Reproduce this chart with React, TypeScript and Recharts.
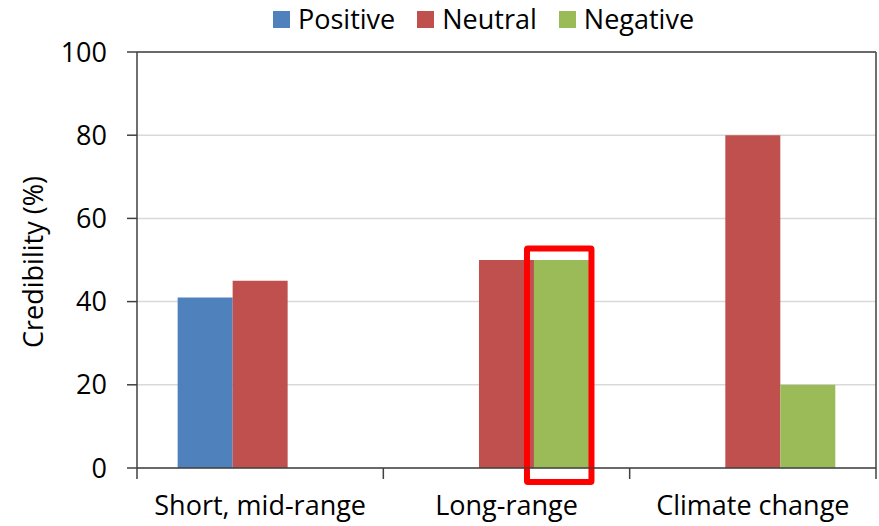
import { BarChart, Bar, XAxis, YAxis, CartesianGrid, Legend } from 'recharts'

const categories = ['Short, mid-range', 'Long-range', 'Climate change']
const positive = [41, 0, 0]
const neutral = [45, 50, 80]
const negative = [0, 50, 20]
const yTicks = [0, 20, 40, 60, 80, 100]
const highlighted = 'Long-range'

const series = [
  { key: 'Positive', color: '#4F81BD' },
  { key: 'Neutral', color: '#C0504D' },
  { key: 'Negative', color: '#9BBB59' },
]

const data = categories.map((name, i) => ({
  name,
  Positive: positive[i],
  Neutral: neutral[i],
  Negative: negative[i],
}))

const FONT = '"Open Sans", sans-serif'
const FS = 27
const AXIS = '#404040'

function CategoryTick(props: any) {
  const { x, y, payload, index, visibleTicksCount, width } = props
  const band = width / visibleTicksCount
  const left = x - band / 2
  return (
    <g>
      <line x1={left} x2={left} y1={y} y2={y + 11} stroke={AXIS} strokeWidth={1.5} />
      {index === visibleTicksCount - 1 && (
        <line x1={left + band} x2={left + band} y1={y} y2={y + 11} stroke={AXIS} strokeWidth={1.5} />
      )}
      <text x={x} y={y + 47} textAnchor="middle" fill="#000" fontSize={FS} fontFamily={FONT}>
        {payload.value}
      </text>
    </g>
  )
}

function NegativeBar(props: any) {
  const { x, y, width, height, fill, payload } = props
  if (!height) return null
  return (
    <g>
      <rect x={x} y={y} width={width} height={height} fill={fill} />
      {payload.name === highlighted && (
        <rect
          x={x - 7}
          y={y - 11.5}
          width={width + 9.5}
          height={height + 25.5}
          fill="none"
          stroke="#FF0000"
          strokeWidth={6}
          rx={1}
        />
      )}
    </g>
  )
}

function LegendContent() {
  return (
    <div style={{ display: 'flex', alignItems: 'center', fontFamily: FONT, fontSize: FS, color: '#000' }}>
      {series.map((s) => (
        <div key={s.key} style={{ display: 'flex', alignItems: 'center', marginRight: 22 }}>
          <span style={{ width: 17, height: 17, background: s.color, display: 'inline-block', marginRight: 8 }} />
          <span style={{ lineHeight: '32px' }}>{s.key}</span>
        </div>
      ))}
    </div>
  )
}

export default function App() {
  return (
    <div style={{ width: 879, height: 526, background: '#fff' }}>
      <style>{`body{margin:0}`}</style>
      <BarChart
        width={879}
        height={526}
        data={data}
        margin={{ top: 52, right: 3, bottom: 0, left: 0 }}
        barCategoryGap="16.5%"
        barGap={0}
      >
        <CartesianGrid vertical={false} stroke="#D9D9D9" strokeWidth={1.5} />
        <CartesianGrid
          stroke={AXIS}
          strokeWidth={1.5}
          horizontalCoordinatesGenerator={({ offset }: any) => [offset.top]}
          verticalCoordinatesGenerator={({ offset }: any) => [offset.left + offset.width]}
        />
        <XAxis
          dataKey="name"
          height={58}
          tickSize={0}
          tickMargin={0}
          interval={0}
          axisLine={{ stroke: AXIS, strokeWidth: 1.5 }}
          tickLine={false}
          tick={<CategoryTick />}
        />
        <YAxis
          domain={[0, 100]}
          ticks={yTicks}
          width={137}
          tickSize={10}
          tickMargin={20}
          axisLine={{ stroke: AXIS, strokeWidth: 1.5 }}
          tickLine={{ stroke: AXIS, strokeWidth: 1.5 }}
          tick={{ fill: '#000', fontSize: FS, fontFamily: FONT }}
          label={{
            content: (p: any) => {
              const vb = p.viewBox
              const cy = vb.y + vb.height / 2
              return (
                <text
                  x={0}
                  y={0}
                  transform={`translate(43, ${cy + 2}) rotate(-90)`}
                  textAnchor="middle"
                  fill="#000"
                  fontSize={FS}
                  fontFamily={FONT}
                >
                  Credibility (%)
                </text>
              )
            },
          }}
        />
        <Legend
          verticalAlign="middle"
          align="center"
          content={<LegendContent />}
          wrapperStyle={{ top: 3, left: 273, width: 'auto' }}
        />
        <Bar dataKey="Positive" fill={series[0].color} isAnimationActive={false} />
        <Bar dataKey="Neutral" fill={series[1].color} isAnimationActive={false} />
        <Bar dataKey="Negative" fill={series[2].color} isAnimationActive={false} shape={<NegativeBar />} />
      </BarChart>
    </div>
  )
}
